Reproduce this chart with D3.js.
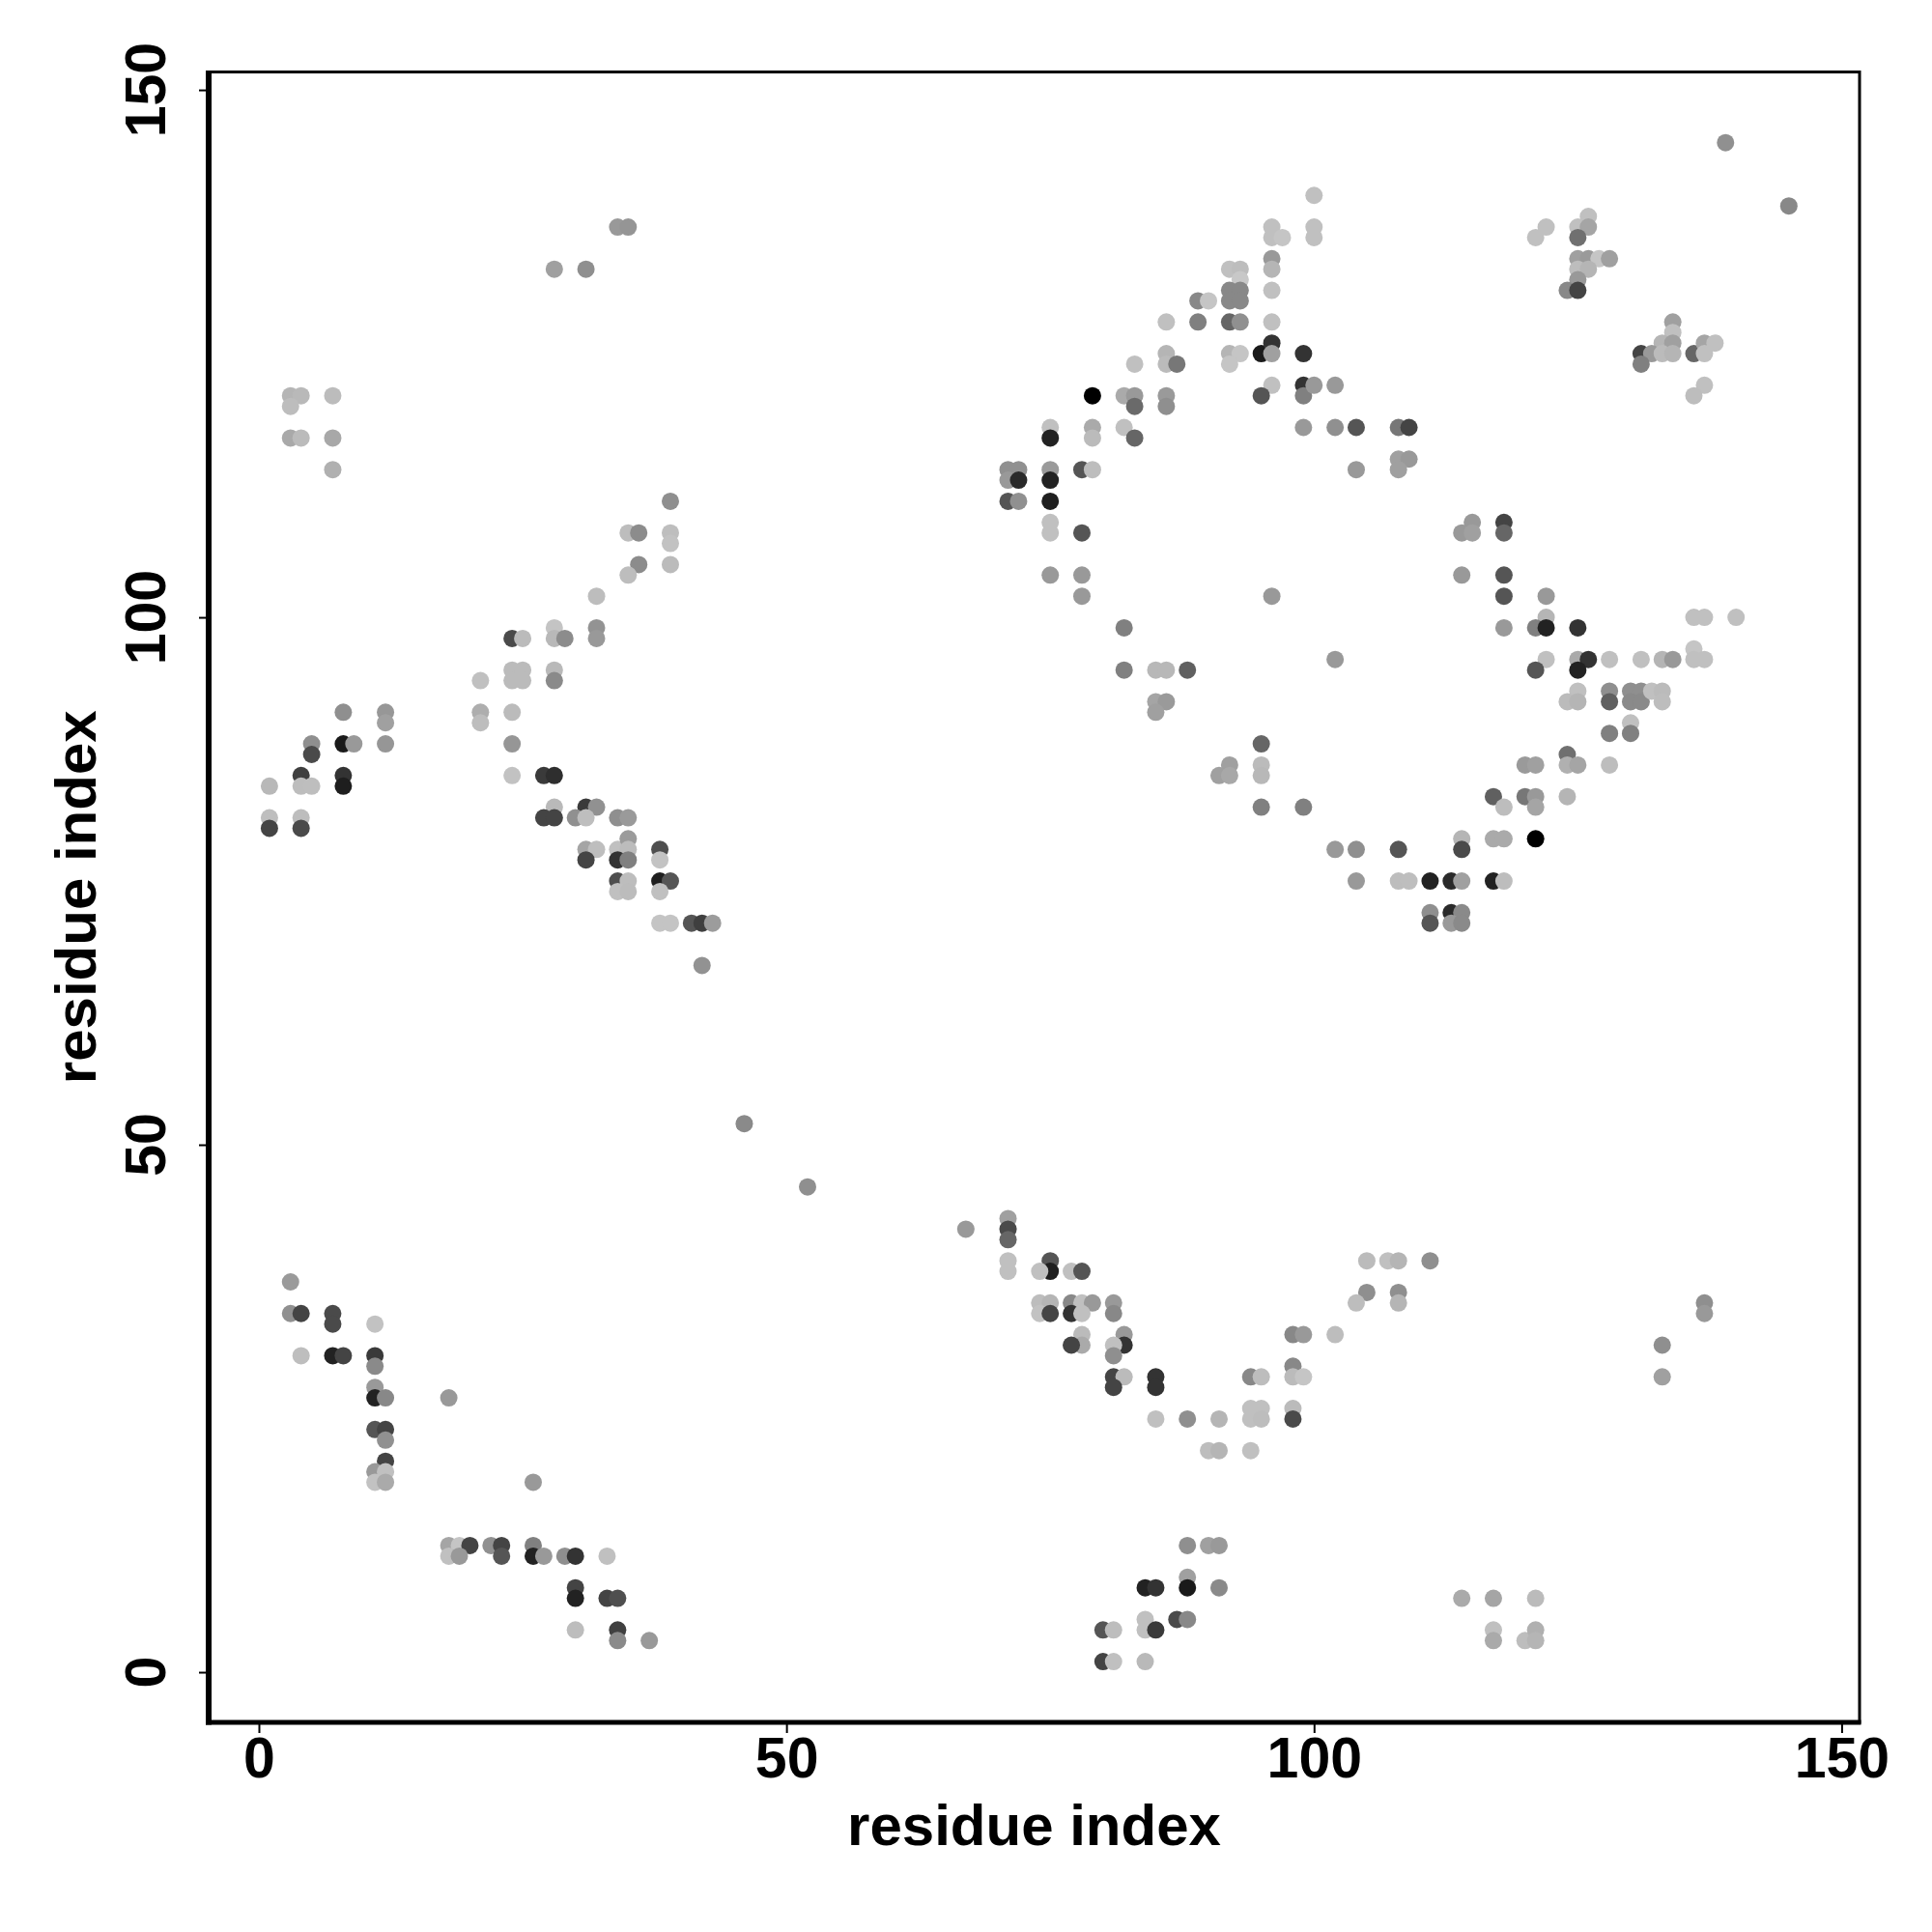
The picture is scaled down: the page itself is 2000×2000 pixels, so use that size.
<!DOCTYPE html>
<html><head><meta charset="utf-8">
<script src="https://cdn.jsdelivr.net/npm/d3@7"></script>
<style>html,body{margin:0;padding:0;background:#fff;}</style>
</head><body>
<svg id="chart" width="2000" height="2000"></svg>
<script>
// [residue i, residue j, grey level 0-255]
const contactsUpperLeft = [
[34,137,0x99],[35,137,0x95],[28,133,0xa0],[31,133,0x8f],
[3,121,0xb5],[4,121,0xb9],[3,120,0xbd],[7,121,0xbc],
[3,117,0xa9],[4,117,0xbb],[7,117,0xa8],[7,114,0xb0],
[39,111,0x8f],[35,108,0xbd],[36,108,0x8c],[39,108,0xbe],[39,107,0xc2],
[36,105,0x8c],[35,104,0xbd],[39,105,0xbb],[32,102,0xbd]
];
const contactsMidLeft = [
[24,98,0x4a],[25,98,0xbb],[28,99,0xc4],[28,98,0xb8],[29,98,0x8c],[32,99,0x93],[32,98,0x99],
[21,94,0xc0],[24,95,0xbb],[25,95,0xbb],[24,94,0xbb],[25,94,0xbb],[28,95,0xb9],[28,94,0x8a],
[8,91,0x8f],[12,91,0x97],[12,90,0xa0],[21,91,0xae],[21,90,0xbd],[24,91,0xbb],
[5,88,0x8f],[5,87,0x4a],[8,88,0x1a],[9,88,0x99],[12,88,0x96],[24,88,0x96],
[4,85,0x3f],[4,84,0xbd],[5,84,0xbe],[1,84,0xb8],[8,85,0x33],[8,84,0x1e],[24,85,0xc2],[27,85,0x3a],[28,85,0x2e],
[1,81,0xbe],[1,80,0x44],[4,81,0xbd],[4,80,0x4a],[28,82,0xb9],[27,81,0x44],[28,81,0x44],[31,82,0x3a],[32,82,0x91],[30,81,0x90],[31,81,0xbe],[34,81,0x8f],[35,81,0x9a],
[31,78,0xa5],[32,78,0xbe],[31,77,0x44],[34,78,0xc0],[35,79,0x9b],[35,78,0xbc],[34,77,0x33],[35,77,0x80],[38,78,0x4f],[38,77,0xc3],
[34,75,0x4e],[35,75,0xbd],[34,74,0xc0],[35,74,0xbc],[38,75,0x1f],[39,75,0x55],[38,74,0xc0],
[38,71,0xc4],[39,71,0xc4],[41,71,0x55],[42,71,0x3f],[43,71,0x9c],[42,67,0x92],[46,52,0x8a]
];
const contactsLowerLeft = [
[3,37,0x9a],[3,34,0x90],[4,34,0x44],[7,34,0x4a],[7,33,0x4a],[11,33,0xc2],
[4,30,0xbe],[7,30,0x22],[8,30,0x44],[11,30,0x3a],[11,29,0x8a],
[11,27,0x99],[11,26,0x22],[12,26,0x88],[18,26,0x99],
[11,23,0x55],[12,23,0x44],[12,22,0x91],[12,20,0x44],[11,19,0x99],[12,19,0xc0],[11,18,0xc2],[12,18,0xaa],[26,18,0x99],
[18,12,0xa5],[19,12,0xc5],[20,12,0x44],[18,11,0xc0],[19,11,0x99],[22,12,0x90],[23,12,0x44],[23,11,0x55],
[26,12,0x80],[26,11,0x22],[27,11,0x99],[29,11,0x8f],[30,11,0x33],[33,11,0xc0],
[30,8,0x44],[30,7,0x22],[33,7,0x44],[34,7,0x4f],[30,4,0xbd],[34,4,0x40],[34,3,0x8a],[37,3,0x99]
];
const contactsUpperMid = [
[100,140,0xc0],[96,137,0xc0],[96,136,0xc0],[97,136,0xc5],[100,137,0xc0],[100,136,0xc0],
[96,134,0x99],[96,133,0xb5],[92,133,0xc0],[93,133,0xbd],[93,132,0xc8],
[92,131,0x88],[93,131,0x88],[92,130,0x88],[93,130,0x88],[89,130,0x88],[90,130,0xc5],[96,131,0xc0],
[86,128,0xc0],[89,128,0x80],[92,128,0x66],[93,128,0x90],[96,128,0xc0],
[86,125,0xb5],[86,124,0xbb],[87,124,0x77],[83,124,0xc0],[92,125,0xb5],[93,125,0xc5],[92,124,0xc5],
[95,125,0x1a],[96,126,0x33],[96,125,0xa0],[99,125,0x33],
[96,122,0xc0],[95,121,0x55],[99,122,0x33],[99,121,0x80],[99,118,0x99],[100,122,0x99],[102,122,0x99],
[79,121,0x00],[82,121,0xaa],[83,121,0x99],[83,120,0x6a],[86,121,0x9a],[86,120,0x8f],
[75,118,0xc0],[75,117,0x22],[79,118,0xaa],[79,117,0xbb],[82,118,0xc0],[83,117,0x66],
[71,114,0x90],[72,114,0x90],[71,113,0x99],[72,113,0x2a],[75,114,0x9a],[75,113,0x22],[78,114,0x55],[79,114,0xbd],
[71,111,0x55],[72,111,0x90],[75,111,0x1f],[75,109,0xc0],[75,108,0xc0],[78,108,0x55],
[75,104,0x99],[78,104,0x99],[78,102,0x99],[96,102,0x99]
];
const contactsUpperRight = [
[139,145,0x90],[145,139,0x88],[122,137,0xc0],[121,136,0xc0],[126,138,0xc0],[125,137,0xc0],[126,137,0xa5],[125,136,0x70],
[125,134,0xa0],[126,134,0x9a],[127,134,0xc5],[128,134,0xa0],[125,133,0xbd],[126,133,0xb5],[125,132,0x99],[124,131,0x88],[125,131,0x44],
[134,128,0xa0],[134,127,0xc0],[133,126,0xb5],[134,126,0xa0],[131,125,0x44],[132,125,0x99],[133,125,0xbb],[134,125,0xb5],[131,124,0x80],
[136,125,0x66],[137,126,0xa5],[138,126,0xc0],[137,125,0xc0],[137,122,0xc0],[136,121,0xbd],
[102,118,0x90],[104,118,0x55],[108,118,0x77],[109,118,0x44],[104,114,0x99],[108,115,0xa0],[109,115,0x99],[108,114,0xa0],
[115,109,0x99],[114,108,0x99],[115,108,0xa0],[118,109,0x44],[118,108,0x66],[114,104,0x99],[118,104,0x55],[118,102,0x55],[122,102,0x99],[122,100,0xb5]
];
const contactsMidCentre = [
[82,99,0x80],[82,95,0x80],[85,95,0xb8],[86,95,0xb8],[88,95,0x60],[85,92,0xa5],[86,92,0x9a],[85,91,0xa0],
[95,88,0x66],[92,86,0xa0],[91,85,0xa0],[92,85,0xa8],[95,86,0xbb],[95,85,0xb8],[95,82,0x80],[99,82,0x80]
];
const contactsMidRight = [
[118,99,0x99],[121,99,0x80],[122,99,0x22],[125,99,0x33],
[102,96,0x99],[122,96,0xc0],[121,95,0x55],[125,96,0xaa],[126,96,0x33],[125,95,0x22],[128,96,0xc0],[131,96,0xc0],[133,96,0xb5],[134,96,0x99],[136,97,0xc5],[136,96,0xc0],[137,96,0xc0],
[136,100,0xc0],[137,100,0xc0],[140,100,0xc0],
[125,93,0xc0],[124,92,0xbb],[125,92,0xb5],[128,93,0x8f],[128,92,0x60],[130,93,0x8f],[131,93,0x8f],[130,92,0x8a],[131,92,0x8a],[132,93,0xc0],[133,93,0xbb],[133,92,0xbd],
[130,90,0xc0],[130,89,0x80],[128,89,0x80],
[124,87,0x70],[124,86,0xb0],[125,86,0xa5],[128,86,0xbd],[120,86,0x9a],[121,86,0xa0],
[117,83,0x60],[118,82,0xbd],[120,83,0x77],[121,83,0x99],[121,82,0xa5],[124,83,0xb5],
[114,79,0xb5],[114,78,0x4a],[117,79,0xaa],[118,79,0xaa],[121,79,0x00],
[102,78,0x99],[104,78,0x8f],[108,78,0x55],
[104,75,0x99],[108,75,0xbd],[109,75,0xbe],[111,75,0x22],[113,75,0x2a],[114,75,0xa0],[117,75,0x22],[118,75,0xbd],
[111,72,0x8f],[111,71,0x55],[113,72,0x2a],[114,72,0x8a],[113,71,0x99],[114,71,0x8a]
];
const contactsLowerMid = [
[52,46,0x8f],[67,42,0x99],[71,43,0xa0],[71,42,0x4a],[71,41,0x66],[71,39,0xc0],[71,38,0xc0],
[75,39,0x55],[75,38,0x1f],[74,38,0xc0],[77,38,0xc0],[78,38,0x55],
[74,35,0xbd],[75,35,0xb5],[74,34,0xc2],[75,34,0x44],[77,35,0x88],[78,35,0xc0],[79,35,0x99],[77,34,0x33],[78,34,0xc0],[81,35,0x99],[81,34,0x88],
[78,32,0xbb],[78,31,0xaa],[77,31,0x44],[82,32,0x99],[82,31,0x33],[81,31,0xc0],[81,30,0x8f],
[81,28,0x44],[82,28,0xbb],[81,27,0x44],[85,28,0x33],[85,27,0x33],
[85,24,0xc0],[88,24,0x8f],[91,24,0xb5],[94,25,0xc0],[95,25,0xc0],[94,24,0xc0],[95,24,0xbd],
[94,28,0x88],[95,28,0xbd],[98,32,0x88],[99,32,0x99],[98,29,0x88],[98,28,0xbb],[99,28,0xc5],[98,25,0xbb],[98,24,0x4a],
[90,21,0xbd],[91,21,0xb5],[94,21,0xc0],
[88,12,0x8f],[90,12,0xa0],[91,12,0x99],[84,8,0x22],[85,8,0x33],[88,9,0xa0],[88,8,0x1a],[91,8,0x8a],
[87,5,0x4a],[88,5,0x88],[84,5,0xc0],[84,4,0xc0],[85,4,0x3a],[80,4,0x55],[81,4,0xbd],[80,1,0x44],[81,1,0xc0],[84,1,0xb9]
];
const contactsLowerRight = [
[105,39,0xbb],[107,39,0xc0],[108,39,0xb5],[111,39,0x8f],[105,36,0x8f],[104,35,0xbd],[108,36,0x8f],[108,35,0xb5],[102,32,0xbd],
[137,35,0x8f],[137,34,0x99],[133,31,0x8f],[133,28,0xa0],
[114,7,0xaa],[117,7,0xa5],[121,7,0xbb],[117,4,0xc0],[117,3,0xaa],[120,3,0xbd],[121,4,0xb0],[121,3,0xb5]
];
const tickValues = [0, 50, 100, 150];
const xTitle = "residue index";
const yTitle = "residue index";

const contacts = [].concat(contactsUpperLeft, contactsMidLeft, contactsLowerLeft,
  contactsUpperMid, contactsUpperRight, contactsMidCentre, contactsMidRight,
  contactsLowerMid, contactsLowerRight);

const svg = d3.select("#chart");
const L = 216, R = 1925, T = 74.5, B = 1783;
const x = d3.scaleLinear().domain([-4.76, 151.7]).range([L, R]);
const y = d3.scaleLinear().domain([-4.76, 151.7]).range([B, T]);
const font = "'Liberation Sans', Arial, Helvetica, sans-serif";

svg.append("rect").attr("width", 2000).attr("height", 2000).attr("fill", "#fff");

// points
svg.append("g").selectAll("circle").data(contacts).join("circle")
  .attr("cx", d => x(d[0])).attr("cy", d => y(d[1])).attr("r", 9)
  .attr("fill", d => d3.rgb(d[2], d[2], d[2]).formatHex());

// box
svg.append("rect").attr("x", L).attr("y", T).attr("width", R - L).attr("height", B - T)
  .attr("fill", "none").attr("stroke", "#000").attr("stroke-width", 3);
svg.append("line").attr("x1", L).attr("x2", L).attr("y1", T - 1.5).attr("y2", B + 2.5)
  .attr("stroke", "#000").attr("stroke-width", 6);
svg.append("line").attr("x1", L - 3).attr("x2", R + 1.5).attr("y1", B).attr("y2", B)
  .attr("stroke", "#000").attr("stroke-width", 5);

// x axis
const gx = svg.append("g").attr("transform", `translate(0,${B})`)
  .call(d3.axisBottom(x).tickValues(tickValues).tickSize(11).tickPadding(4).tickFormat(d3.format("d")));
gx.select(".domain").remove();
gx.selectAll(".tick line").attr("stroke", "#000").attr("stroke-width", 2);
gx.selectAll(".tick text").attr("font-family", font).attr("font-weight", "bold")
  .attr("font-size", 59).attr("fill", "#000");

// y axis
const gy = svg.append("g").attr("transform", `translate(${L},0)`)
  .call(d3.axisLeft(y).tickValues(tickValues).tickSize(10).tickFormat(""));
gy.select(".domain").remove();
gy.selectAll(".tick line").attr("stroke", "#000").attr("stroke-width", 2);
svg.append("g").selectAll("text").data(tickValues).join("text")
  .attr("transform", d => `translate(171,${y(d)}) rotate(-90)`)
  .attr("text-anchor", "middle")
  .attr("font-family", font).attr("font-weight", "bold").attr("font-size", 59)
  .text(d => d);

// titles
svg.append("text").attr("x", (L + R) / 2).attr("y", 1910).attr("text-anchor", "middle")
  .attr("font-family", font).attr("font-weight", "bold").attr("font-size", 60).text(xTitle);
svg.append("text").attr("transform", `translate(99,${(T + B) / 2}) rotate(-90)`)
  .attr("text-anchor", "middle")
  .attr("font-family", font).attr("font-weight", "bold").attr("font-size", 60).text(yTitle);
</script>
</body></html>
